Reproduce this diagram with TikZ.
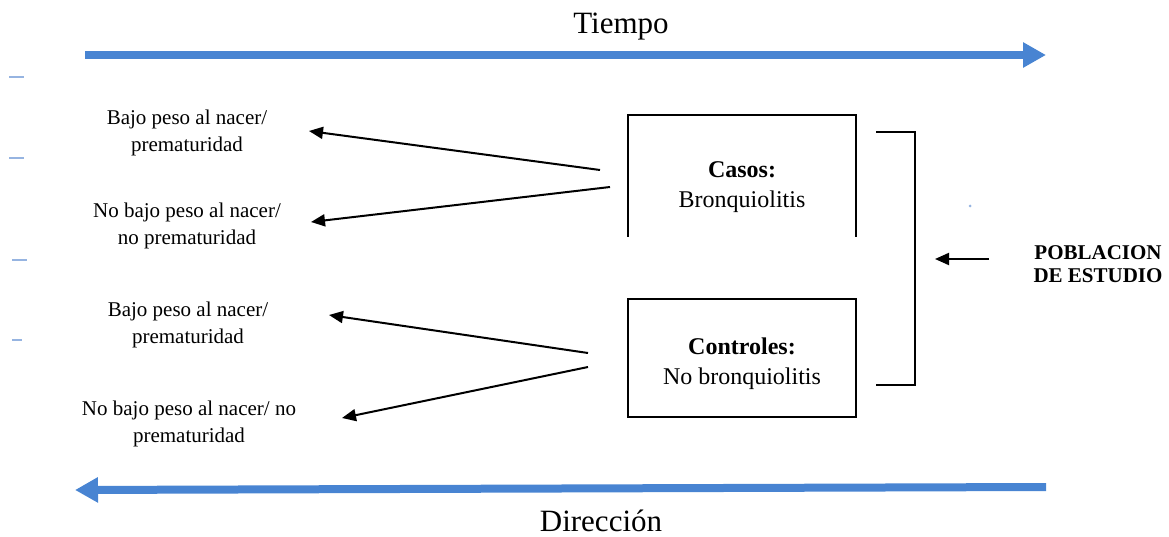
\documentclass[tikz,border=0pt]{standalone}
\usepackage{fontspec}
\setmainfont{Liberation Serif}
\usetikzlibrary{arrows.meta}
\definecolor{flowblue}{RGB}{72,132,210}
\definecolor{faintblue}{RGB}{150,180,225}
\begin{document}
\begin{tikzpicture}[x=1pt,y=-1pt,
  lefttext/.style={align=center,font=\fontsize{21}{26.5}\selectfont,inner sep=0pt},
  boxtext/.style={align=center,font=\fontsize{24}{30}\selectfont,inner sep=0pt},
  bigtext/.style={font=\fontsize{31}{36}\selectfont,inner sep=0pt},
  poptext/.style={align=center,font=\fontsize{21}{23.5}\selectfont\bfseries,inner sep=0pt},
  blackarrow/.style={line width=2pt,-{Triangle[length=14pt,width=12pt]}},
  bluearrow/.style={flowblue,line width=8pt,-{Triangle[length=23pt,width=24pt]}},
  boxline/.style={line width=2pt},
  faint/.style={faintblue,line width=1.5pt}]
\useasboundingbox (0,0) rectangle (1169,537);

% time axes
\coordinate (t0) at (85,55);
\coordinate (t1) at (1046,55);
\draw[bluearrow] (t0) -- (t1);
\node[bigtext] (tiempo) at (621,27) {Tiempo};
\coordinate (d0) at (1046,487);
\coordinate (d1) at (75,490);
\draw[bluearrow] (d0) -- (d1);
\node[bigtext] (direccion) at (601,521) {Dirección};

% faint marks
\draw[faint] (9,77) -- (24,77);
\draw[faint] (9,158) -- (24,158);
\draw[faint] (12,260) -- (27,260);
\draw[faint] (12,340) -- (22,340);
\fill[faintblue] (970,206) circle (1.5pt);

% boxes
\draw[boxline] (628,237) -- (628,115) -- (856,115) -- (856,237);
\node[boxtext] (casos) at (742,187) {\textbf{Casos:}\\Bronquiolitis};
\draw[boxline] (628,299) rectangle (856,417);
\node[boxtext] (controles) at (742,364) {\textbf{Controles:}\\No bronquiolitis};

% bracket
\draw[boxline] (876,132) -- (915,132) -- (915,385) -- (876,385);
\node[poptext] (pob) at (1098,264) {POBLACION\\DE ESTUDIO};
\coordinate (pa) at (989,259);
\coordinate (pb) at (935,259);
\draw[blackarrow] (pa) -- (pb);

% left texts
\node[lefttext] (l1) at (187,133) {Bajo peso al nacer/\\prematuridad};
\node[lefttext] (l2) at (187,226) {No bajo peso al nacer/\\no prematuridad};
\node[lefttext] (l3) at (188,325) {Bajo peso al nacer/\\prematuridad};
\node[lefttext] (l4) at (189,424) {No bajo peso al nacer/ no\\prematuridad};

% arrows
\coordinate (s1) at (600,170);
\coordinate (e1) at (309,131);
\coordinate (s2) at (610,187);
\coordinate (e2) at (311,222);
\coordinate (s3) at (588,353);
\coordinate (e3) at (329,315);
\coordinate (s4) at (588,367);
\coordinate (e4) at (342,418);
\draw[blackarrow] (s1) -- (e1);
\draw[blackarrow] (s2) -- (e2);
\draw[blackarrow] (s3) -- (e3);
\draw[blackarrow] (s4) -- (e4);
\end{tikzpicture}
\end{document}
